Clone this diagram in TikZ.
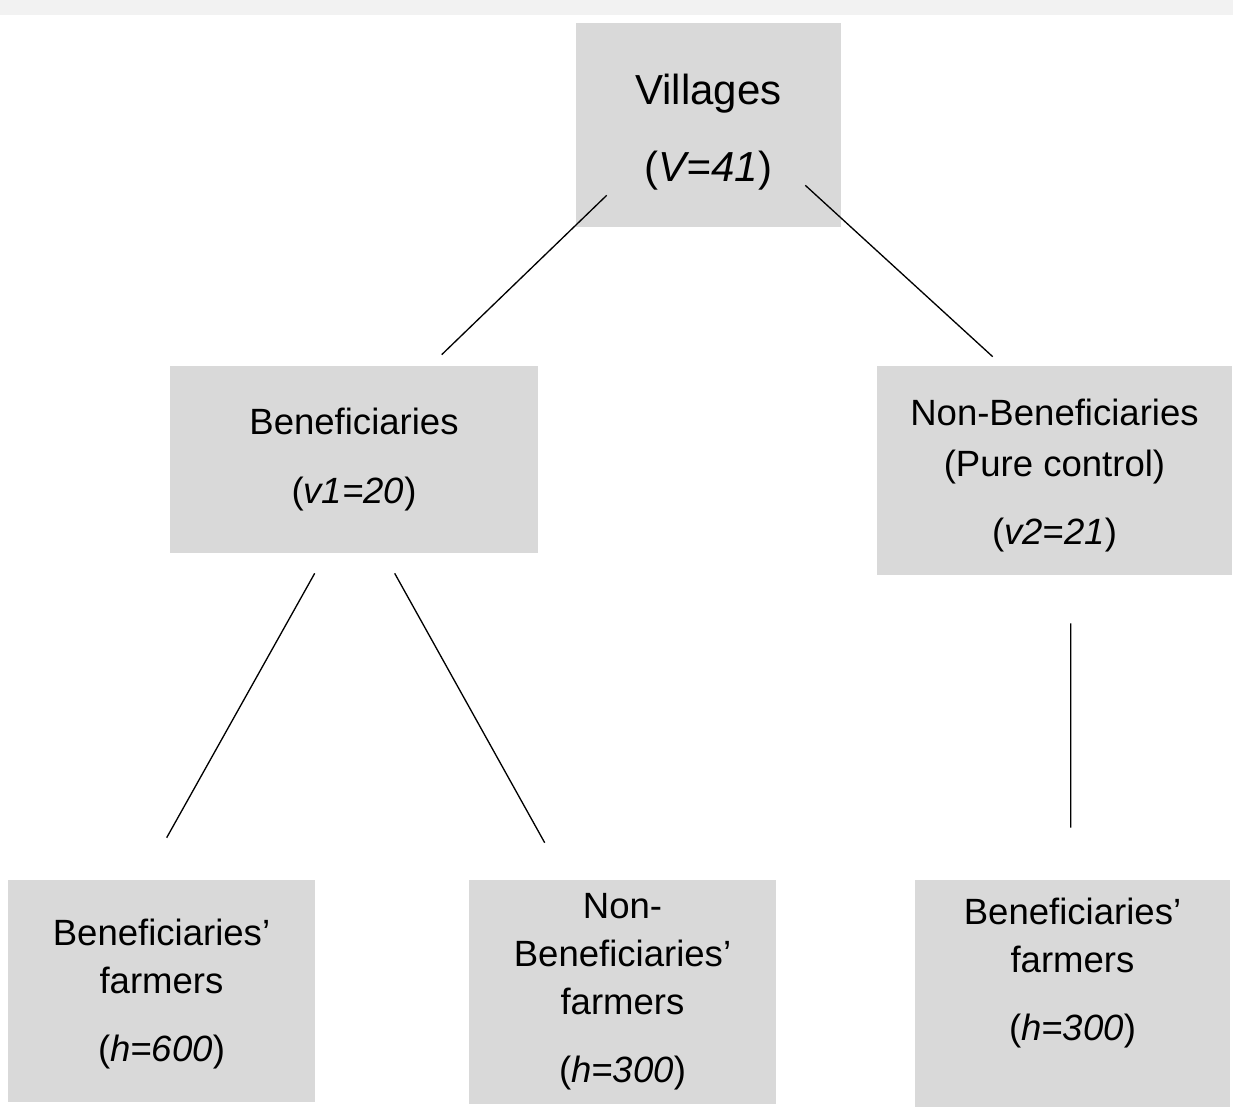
\documentclass[tikz,border=0pt]{standalone}
\usepackage{fontspec}
\setmainfont{Liberation Sans}
\usetikzlibrary{positioning}

\definecolor{boxgray}{HTML}{D9D9D9}
\definecolor{bandgray}{HTML}{F2F2F2}

\begin{document}
\begin{tikzpicture}[x=0.02cm, y=-0.02cm,
    box/.style={fill=boxgray, draw=none, align=center, inner sep=0pt,
        font=\fontsize{20.8}{27.3}\selectfont},
    link/.style={draw=black, line width=0.75pt}]
    \useasboundingbox (0,0) rectangle (1233,1107);
    \fill[bandgray] (0,0) rectangle (1233,15);
    % villages and the two groups
    \node[box, minimum width=5.3cm, minimum height=4.08cm,
        font=\fontsize{23.9}{28.7}\selectfont] (vil) at (708.5,125) {\rule{0pt}{25.4pt}Villages\\[15pt](\textit{V=41})};
    \node[box, minimum width=7.36cm, minimum height=3.74cm] (ben) at (354,459.5) {Beneficiaries\\[12.5pt](\textit{v1=20})};
    \node[box, minimum width=7.1cm, minimum height=4.18cm] (nonben) at (1054.5,470.5) {\rule{0pt}{21pt}Non-Beneficiaries\\[2pt](Pure control)\\[11.4pt](\textit{v2=21})};
    % farmers
    \node[box, minimum width=6.14cm, minimum height=4.44cm] (bfarm) at (161.5,991) {\rule{0pt}{18pt}Beneficiaries’\\farmers\\[11.4pt](\textit{h=600})};
    \node[box, minimum width=6.14cm, minimum height=4.48cm] (nbfarm) at (622.5,992) {Non-\\Beneficiaries’\\farmers\\[11.4pt](\textit{h=300})};
    \node[box, minimum width=6.3cm, minimum height=4.54cm] (pcfarm) at (1072.5,993.5) {Beneficiaries’\\farmers\\[11.4pt](\textit{h=300})\\\mbox{}};
    % connectors
    \draw[link] ([shift={(31,-32)}]vil.south west) -- ([shift={(272,-11)}]ben.north west);
    \draw[link] ([shift={(-36,-42)}]vil.south east) -- ([shift={(116,-9)}]nonben.north west);
    \draw[link] ([shift={(145,20)}]ben.south west) -- ([shift={(159,-42)}]bfarm.north west);
    \draw[link] ([shift={(225,20)}]ben.south west) -- ([shift={(76,-37)}]nbfarm.north west);
    \draw[link] ([shift={(194,48)}]nonben.south west) -- ([shift={(156,-52)}]pcfarm.north west);
\end{tikzpicture}
\end{document}
